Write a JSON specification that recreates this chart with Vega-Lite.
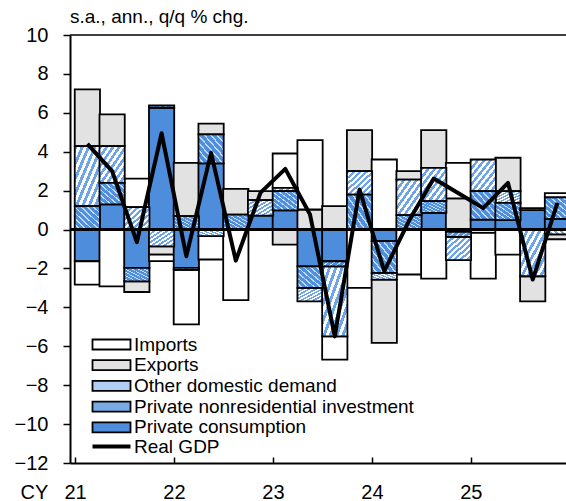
{
  "$schema": "https://vega.github.io/schema/vega-lite/v6.json",
  "width": 496,
  "height": 428,
  "autosize": "none",
  "padding": {"left": 70, "top": 35, "right": 0, "bottom": 38},
  "background": "white",
  "config": {
    "font": "Liberation Sans",
    "view": {"stroke": null},
    "axis": {"grid": false},
    "axisY": {"tickCount": 12, "labelOverlap": false, "labelFlush": false}
  },
  "title": {
    "text": "s.a., ann., q/q % chg.",
    "anchor": "start",
    "frame": "group",
    "fontSize": 19,
    "fontWeight": "normal",
    "color": "black",
    "baseline": "alphabetic",
    "offset": 7,
    "dy": 24
  },
  "datasets": {
    "quarters": [
      {"period": "2021Q1", "t": 2021.125, "Private consumption": -1.63, "Private nonresidential investment": 1.2, "Other domestic demand": 3.09, "Exports": 2.91, "Imports": -1.2, "gdp": 4.4},
      {"period": "2021Q2", "t": 2021.375, "Private consumption": 1.29, "Private nonresidential investment": 1.11, "Other domestic demand": 1.89, "Exports": 1.63, "Imports": -2.92, "gdp": 3.0},
      {"period": "2021Q3", "t": 2021.625, "Private consumption": -1.97, "Private nonresidential investment": -0.69, "Other domestic demand": 1.15, "Exports": -0.55, "Imports": 1.47, "gdp": -0.65},
      {"period": "2021Q4", "t": 2021.875, "Private consumption": 6.26, "Private nonresidential investment": 0.12, "Other domestic demand": -0.86, "Exports": -0.43, "Imports": -0.33, "gdp": 4.95},
      {"period": "2022Q1", "t": 2022.125, "Private consumption": -1.97, "Private nonresidential investment": 0.69, "Other domestic demand": -0.1, "Exports": 2.74, "Imports": -2.8, "gdp": -1.37},
      {"period": "2022Q2", "t": 2022.375, "Private consumption": 3.4, "Private nonresidential investment": 1.49, "Other domestic demand": -0.34, "Exports": 0.55, "Imports": -1.2, "gdp": 3.94},
      {"period": "2022Q3", "t": 2022.625, "Private consumption": 0, "Private nonresidential investment": 0.77, "Other domestic demand": 0, "Exports": 1.32, "Imports": -3.63, "gdp": -1.6},
      {"period": "2022Q4", "t": 2022.875, "Private consumption": 0.72, "Private nonresidential investment": 0, "Other domestic demand": 0.79, "Exports": 0.46, "Imports": 0, "gdp": 1.9},
      {"period": "2023Q1", "t": 2023.125, "Private consumption": 0.99, "Private nonresidential investment": 0.98, "Other domestic demand": 0.17, "Exports": -0.77, "Imports": 1.77, "gdp": 3.12},
      {"period": "2023Q2", "t": 2023.375, "Private consumption": -1.89, "Private nonresidential investment": -1.11, "Other domestic demand": -0.69, "Exports": 1.03, "Imports": 3.57, "gdp": 0.77},
      {"period": "2023Q3", "t": 2023.625, "Private consumption": -1.63, "Private nonresidential investment": -0.26, "Other domestic demand": -3.6, "Exports": 1.2, "Imports": -1.2, "gdp": -5.49},
      {"period": "2023Q4", "t": 2023.875, "Private consumption": 0, "Private nonresidential investment": 1.8, "Other domestic demand": 1.2, "Exports": 2.11, "Imports": -3.0, "gdp": 2.06},
      {"period": "2024Q1", "t": 2024.125, "Private consumption": -0.6, "Private nonresidential investment": -1.63, "Other domestic demand": -0.34, "Exports": -3.26, "Imports": 3.6, "gdp": -2.14},
      {"period": "2024Q2", "t": 2024.375, "Private consumption": 0, "Private nonresidential investment": 0.74, "Other domestic demand": 1.83, "Exports": 0.43, "Imports": -2.31, "gdp": 0.45},
      {"period": "2024Q3", "t": 2024.625, "Private consumption": 0.86, "Private nonresidential investment": 0.6, "Other domestic demand": 1.71, "Exports": 1.94, "Imports": -2.52, "gdp": 2.62},
      {"period": "2024Q4", "t": 2024.875, "Private consumption": -0.12, "Private nonresidential investment": -0.26, "Other domestic demand": -1.19, "Exports": 1.6, "Imports": 1.83, "gdp": 1.87},
      {"period": "2025Q1", "t": 2025.125, "Private consumption": 0.51, "Private nonresidential investment": 1.46, "Other domestic demand": 1.63, "Exports": -0.17, "Imports": -2.35, "gdp": 1.1},
      {"period": "2025Q2", "t": 2025.375, "Private consumption": 0.48, "Private nonresidential investment": 0.89, "Other domestic demand": 0.6, "Exports": 1.72, "Imports": -1.29, "gdp": 2.4},
      {"period": "2025Q3", "t": 2025.625, "Private consumption": 1.0, "Private nonresidential investment": 0.1, "Other domestic demand": -2.4, "Exports": -1.29, "Imports": 0, "gdp": -2.57},
      {"period": "2025Q4", "t": 2025.875, "Private consumption": 0.55, "Private nonresidential investment": 1.1, "Other domestic demand": -0.25, "Exports": -0.25, "Imports": 0.22, "gdp": 1.37}
    ],
    "stackorder": [
      {"c": "Private consumption", "k": 1},
      {"c": "Private nonresidential investment", "k": 2},
      {"c": "Other domestic demand", "k": 3},
      {"c": "Exports", "k": 4},
      {"c": "Imports", "k": 5}
    ]
  },
  "data": {"name": "quarters"},
  "encoding": {
    "x": {
      "field": "t",
      "type": "quantitative",
      "scale": {"domain": [2021, 2025.9109], "nice": false, "zero": false},
      "axis": {
        "values": [2021, 2022, 2023, 2024, 2025],
        "labelExpr": "datum.value - 2000",
        "title": "CY",
        "titleX": -36,
        "titleY": 35,
        "titleAlign": "center",
        "titleBaseline": "alphabetic",
        "titleFontSize": 20,
        "titleFontWeight": "normal",
        "titleColor": "black",
        "titleAngle": 0,
        "labelFontSize": 20,
        "labelColor": "black",
        "labelBaseline": "alphabetic",
        "labelAlign": "center",
        "labelDx": 14,
        "labelPadding": 41,
        "labelFlush": false,
        "labelOverlap": false,
        "tickSize": -6,
        "tickColor": "black",
        "tickWidth": 1.5,
        "domainColor": "black",
        "domainWidth": 2
      }
    }
  },
  "layer": [
    {
      "transform": [
        {"fold": ["Private consumption", "Private nonresidential investment", "Other domestic demand", "Exports", "Imports"], "as": ["c", "v"]},
        {"filter": "datum.v != 0"},
        {"lookup": "c", "from": {"data": {"name": "stackorder"}, "key": "c", "fields": ["k"]}},
        {"stack": "v", "groupby": ["t"], "sort": [{"field": "k", "order": "ascending"}], "as": ["v0", "v1"], "offset": "zero"}
      ],
      "encoding": {
        "y": {
          "field": "v0",
          "type": "quantitative",
          "scale": {"domain": [-12, 10], "nice": false, "zero": false},
          "axis": {
            "values": [-12, -10, -8, -6, -4, -2, 0, 2, 4, 6, 8, 10],
            "title": null,
            "labelOverlap": false,
            "labelFlush": false,
            "labelFontSize": 20,
            "labelColor": "black",
            "labelPadding": 15,
            "tickSize": 7,
            "tickColor": "black",
            "tickWidth": 1.5,
            "domainColor": "black",
            "domainWidth": 2
          }
        },
        "y2": {"field": "v1"}
      },
      "layer": [
        {
          "transform": [{"filter": "datum.c === 'Imports' || datum.c === 'Exports' || datum.c === 'Private consumption'"}],
          "mark": {"type": "bar", "width": 25.25, "stroke": "black", "strokeWidth": 1.8, "clip": true},
          "encoding": {
            "fill": {
              "field": "c",
              "type": "nominal",
              "scale": {
                "domain": ["Imports", "Exports", "Other domestic demand", "Private nonresidential investment", "Private consumption"],
                "range": ["#ffffff", "#e2e2e2", "#b0cdf3", "#7aaae5", "#4e8ddc"]
              },
              "legend": {
                "orient": "none",
                "legendX": 32,
                "legendY": 300,
                "title": null,
                "padding": 0,
                "symbolType": "M-3.8,-1H3.8V1H-3.8Z",
                "symbolSize": 100,
                "symbolStrokeColor": "black",
                "symbolStrokeWidth": 1.8,
                "symbolOpacity": 1,
                "labelFontSize": 19,
                "labelColor": "black",
                "labelOffset": 13,
                "labelLimit": 400,
                "rowPadding": 0.7,
                "encode": {
                  "symbols": {
                    "update": {
                      "stroke": {"value": "black"},
                      "strokeWidth": {"value": 1.8},
                      "fill": [
                        {"test": "datum.value === 'Other domestic demand'", "value": {"gradient": "linear", "x1": 0, "y1": 0, "x2": 1, "y2": 1, "stops": [
                          {"offset": 0, "color": "#6ea4ea"}, {"offset": 0.0625, "color": "#6ea4ea"}, {"offset": 0.0625, "color": "#ffffff"}, {"offset": 0.125, "color": "#ffffff"},
                          {"offset": 0.125, "color": "#6ea4ea"}, {"offset": 0.1875, "color": "#6ea4ea"}, {"offset": 0.1875, "color": "#ffffff"}, {"offset": 0.25, "color": "#ffffff"},
                          {"offset": 0.25, "color": "#6ea4ea"}, {"offset": 0.3125, "color": "#6ea4ea"}, {"offset": 0.3125, "color": "#ffffff"}, {"offset": 0.375, "color": "#ffffff"},
                          {"offset": 0.375, "color": "#6ea4ea"}, {"offset": 0.4375, "color": "#6ea4ea"}, {"offset": 0.4375, "color": "#ffffff"}, {"offset": 0.5, "color": "#ffffff"},
                          {"offset": 0.5, "color": "#6ea4ea"}, {"offset": 0.5625, "color": "#6ea4ea"}, {"offset": 0.5625, "color": "#ffffff"}, {"offset": 0.625, "color": "#ffffff"},
                          {"offset": 0.625, "color": "#6ea4ea"}, {"offset": 0.6875, "color": "#6ea4ea"}, {"offset": 0.6875, "color": "#ffffff"}, {"offset": 0.75, "color": "#ffffff"},
                          {"offset": 0.75, "color": "#6ea4ea"}, {"offset": 0.8125, "color": "#6ea4ea"}, {"offset": 0.8125, "color": "#ffffff"}, {"offset": 0.875, "color": "#ffffff"},
                          {"offset": 0.875, "color": "#6ea4ea"}, {"offset": 0.9375, "color": "#6ea4ea"}, {"offset": 0.9375, "color": "#ffffff"}, {"offset": 1, "color": "#ffffff"}
                        ]}},
                        {"test": "datum.value === 'Private nonresidential investment'", "value": {"gradient": "linear", "x1": 0, "y1": 1, "x2": 1, "y2": 0, "stops": [
                          {"offset": 0, "color": "#4f8fdf"}, {"offset": 0.09, "color": "#4f8fdf"}, {"offset": 0.09, "color": "#c5daf5"}, {"offset": 0.125, "color": "#c5daf5"},
                          {"offset": 0.125, "color": "#4f8fdf"}, {"offset": 0.215, "color": "#4f8fdf"}, {"offset": 0.215, "color": "#c5daf5"}, {"offset": 0.25, "color": "#c5daf5"},
                          {"offset": 0.25, "color": "#4f8fdf"}, {"offset": 0.34, "color": "#4f8fdf"}, {"offset": 0.34, "color": "#c5daf5"}, {"offset": 0.375, "color": "#c5daf5"},
                          {"offset": 0.375, "color": "#4f8fdf"}, {"offset": 0.465, "color": "#4f8fdf"}, {"offset": 0.465, "color": "#c5daf5"}, {"offset": 0.5, "color": "#c5daf5"},
                          {"offset": 0.5, "color": "#4f8fdf"}, {"offset": 0.59, "color": "#4f8fdf"}, {"offset": 0.59, "color": "#c5daf5"}, {"offset": 0.625, "color": "#c5daf5"},
                          {"offset": 0.625, "color": "#4f8fdf"}, {"offset": 0.715, "color": "#4f8fdf"}, {"offset": 0.715, "color": "#c5daf5"}, {"offset": 0.75, "color": "#c5daf5"},
                          {"offset": 0.75, "color": "#4f8fdf"}, {"offset": 0.84, "color": "#4f8fdf"}, {"offset": 0.84, "color": "#c5daf5"}, {"offset": 0.875, "color": "#c5daf5"},
                          {"offset": 0.875, "color": "#4f8fdf"}, {"offset": 0.965, "color": "#4f8fdf"}, {"offset": 0.965, "color": "#c5daf5"}, {"offset": 1, "color": "#c5daf5"}
                        ]}},
                        {"scale": "fill", "field": "value"}
                      ]
                    }
                  }
                }
              }
            }
          }
        },
        {
          "transform": [{"filter": "datum.c === 'Other domestic demand'"}],
          "mark": {"type": "bar", "width": 25.25, "stroke": "black", "strokeWidth": 1.8, "clip": true,
            "fill": {"gradient": "linear", "x1": 0, "y1": 0, "x2": 1, "y2": 1, "stops": [
              {"offset": 0, "color": "#6ea4ea"}, {"offset": 0.0625, "color": "#6ea4ea"}, {"offset": 0.0625, "color": "#ffffff"}, {"offset": 0.125, "color": "#ffffff"},
              {"offset": 0.125, "color": "#6ea4ea"}, {"offset": 0.1875, "color": "#6ea4ea"}, {"offset": 0.1875, "color": "#ffffff"}, {"offset": 0.25, "color": "#ffffff"},
              {"offset": 0.25, "color": "#6ea4ea"}, {"offset": 0.3125, "color": "#6ea4ea"}, {"offset": 0.3125, "color": "#ffffff"}, {"offset": 0.375, "color": "#ffffff"},
              {"offset": 0.375, "color": "#6ea4ea"}, {"offset": 0.4375, "color": "#6ea4ea"}, {"offset": 0.4375, "color": "#ffffff"}, {"offset": 0.5, "color": "#ffffff"},
              {"offset": 0.5, "color": "#6ea4ea"}, {"offset": 0.5625, "color": "#6ea4ea"}, {"offset": 0.5625, "color": "#ffffff"}, {"offset": 0.625, "color": "#ffffff"},
              {"offset": 0.625, "color": "#6ea4ea"}, {"offset": 0.6875, "color": "#6ea4ea"}, {"offset": 0.6875, "color": "#ffffff"}, {"offset": 0.75, "color": "#ffffff"},
              {"offset": 0.75, "color": "#6ea4ea"}, {"offset": 0.8125, "color": "#6ea4ea"}, {"offset": 0.8125, "color": "#ffffff"}, {"offset": 0.875, "color": "#ffffff"},
              {"offset": 0.875, "color": "#6ea4ea"}, {"offset": 0.9375, "color": "#6ea4ea"}, {"offset": 0.9375, "color": "#ffffff"}, {"offset": 1, "color": "#ffffff"}
            ]}
          }
        },
        {
          "transform": [{"filter": "datum.c === 'Private nonresidential investment'"}],
          "mark": {"type": "bar", "width": 25.25, "stroke": "black", "strokeWidth": 1.8, "clip": true,
            "fill": {"gradient": "linear", "x1": 0, "y1": 1, "x2": 1, "y2": 0, "stops": [
              {"offset": 0, "color": "#4f8fdf"}, {"offset": 0.09, "color": "#4f8fdf"}, {"offset": 0.09, "color": "#c5daf5"}, {"offset": 0.125, "color": "#c5daf5"},
              {"offset": 0.125, "color": "#4f8fdf"}, {"offset": 0.215, "color": "#4f8fdf"}, {"offset": 0.215, "color": "#c5daf5"}, {"offset": 0.25, "color": "#c5daf5"},
              {"offset": 0.25, "color": "#4f8fdf"}, {"offset": 0.34, "color": "#4f8fdf"}, {"offset": 0.34, "color": "#c5daf5"}, {"offset": 0.375, "color": "#c5daf5"},
              {"offset": 0.375, "color": "#4f8fdf"}, {"offset": 0.465, "color": "#4f8fdf"}, {"offset": 0.465, "color": "#c5daf5"}, {"offset": 0.5, "color": "#c5daf5"},
              {"offset": 0.5, "color": "#4f8fdf"}, {"offset": 0.59, "color": "#4f8fdf"}, {"offset": 0.59, "color": "#c5daf5"}, {"offset": 0.625, "color": "#c5daf5"},
              {"offset": 0.625, "color": "#4f8fdf"}, {"offset": 0.715, "color": "#4f8fdf"}, {"offset": 0.715, "color": "#c5daf5"}, {"offset": 0.75, "color": "#c5daf5"},
              {"offset": 0.75, "color": "#4f8fdf"}, {"offset": 0.84, "color": "#4f8fdf"}, {"offset": 0.84, "color": "#c5daf5"}, {"offset": 0.875, "color": "#c5daf5"},
              {"offset": 0.875, "color": "#4f8fdf"}, {"offset": 0.965, "color": "#4f8fdf"}, {"offset": 0.965, "color": "#c5daf5"}, {"offset": 1, "color": "#c5daf5"}
            ]}
          }
        }
      ]
    },
    {
      "data": {"values": [{}]},
      "mark": {"type": "rule", "stroke": "black", "strokeWidth": 3},
      "encoding": {"x": null, "y": {"datum": 0, "type": "quantitative"}}
    },
    {
      "data": {"values": [{}]},
      "mark": {"type": "rule", "stroke": "black", "strokeWidth": 1.5},
      "encoding": {"x": null, "y": {"datum": 10, "type": "quantitative"}}
    },
    {
      "mark": {"type": "line", "strokeWidth": 4, "strokeJoin": "round", "clip": true},
      "encoding": {
        "y": {"field": "gdp", "type": "quantitative"},
        "stroke": {
          "datum": "Real GDP",
          "type": "nominal",
          "scale": {"range": ["black"]},
          "legend": {
            "orient": "none",
            "legendX": 32,
            "legendY": 402,
            "title": null,
            "padding": 0,
            "symbolType": "M-3.8,0H3.8",
            "symbolSize": 100,
            "symbolStrokeWidth": 4,
            "symbolStrokeColor": "black",
            "labelFontSize": 19,
            "labelColor": "black",
            "labelOffset": 13,
            "labelLimit": 400
          }
        }
      }
    }
  ]
}
